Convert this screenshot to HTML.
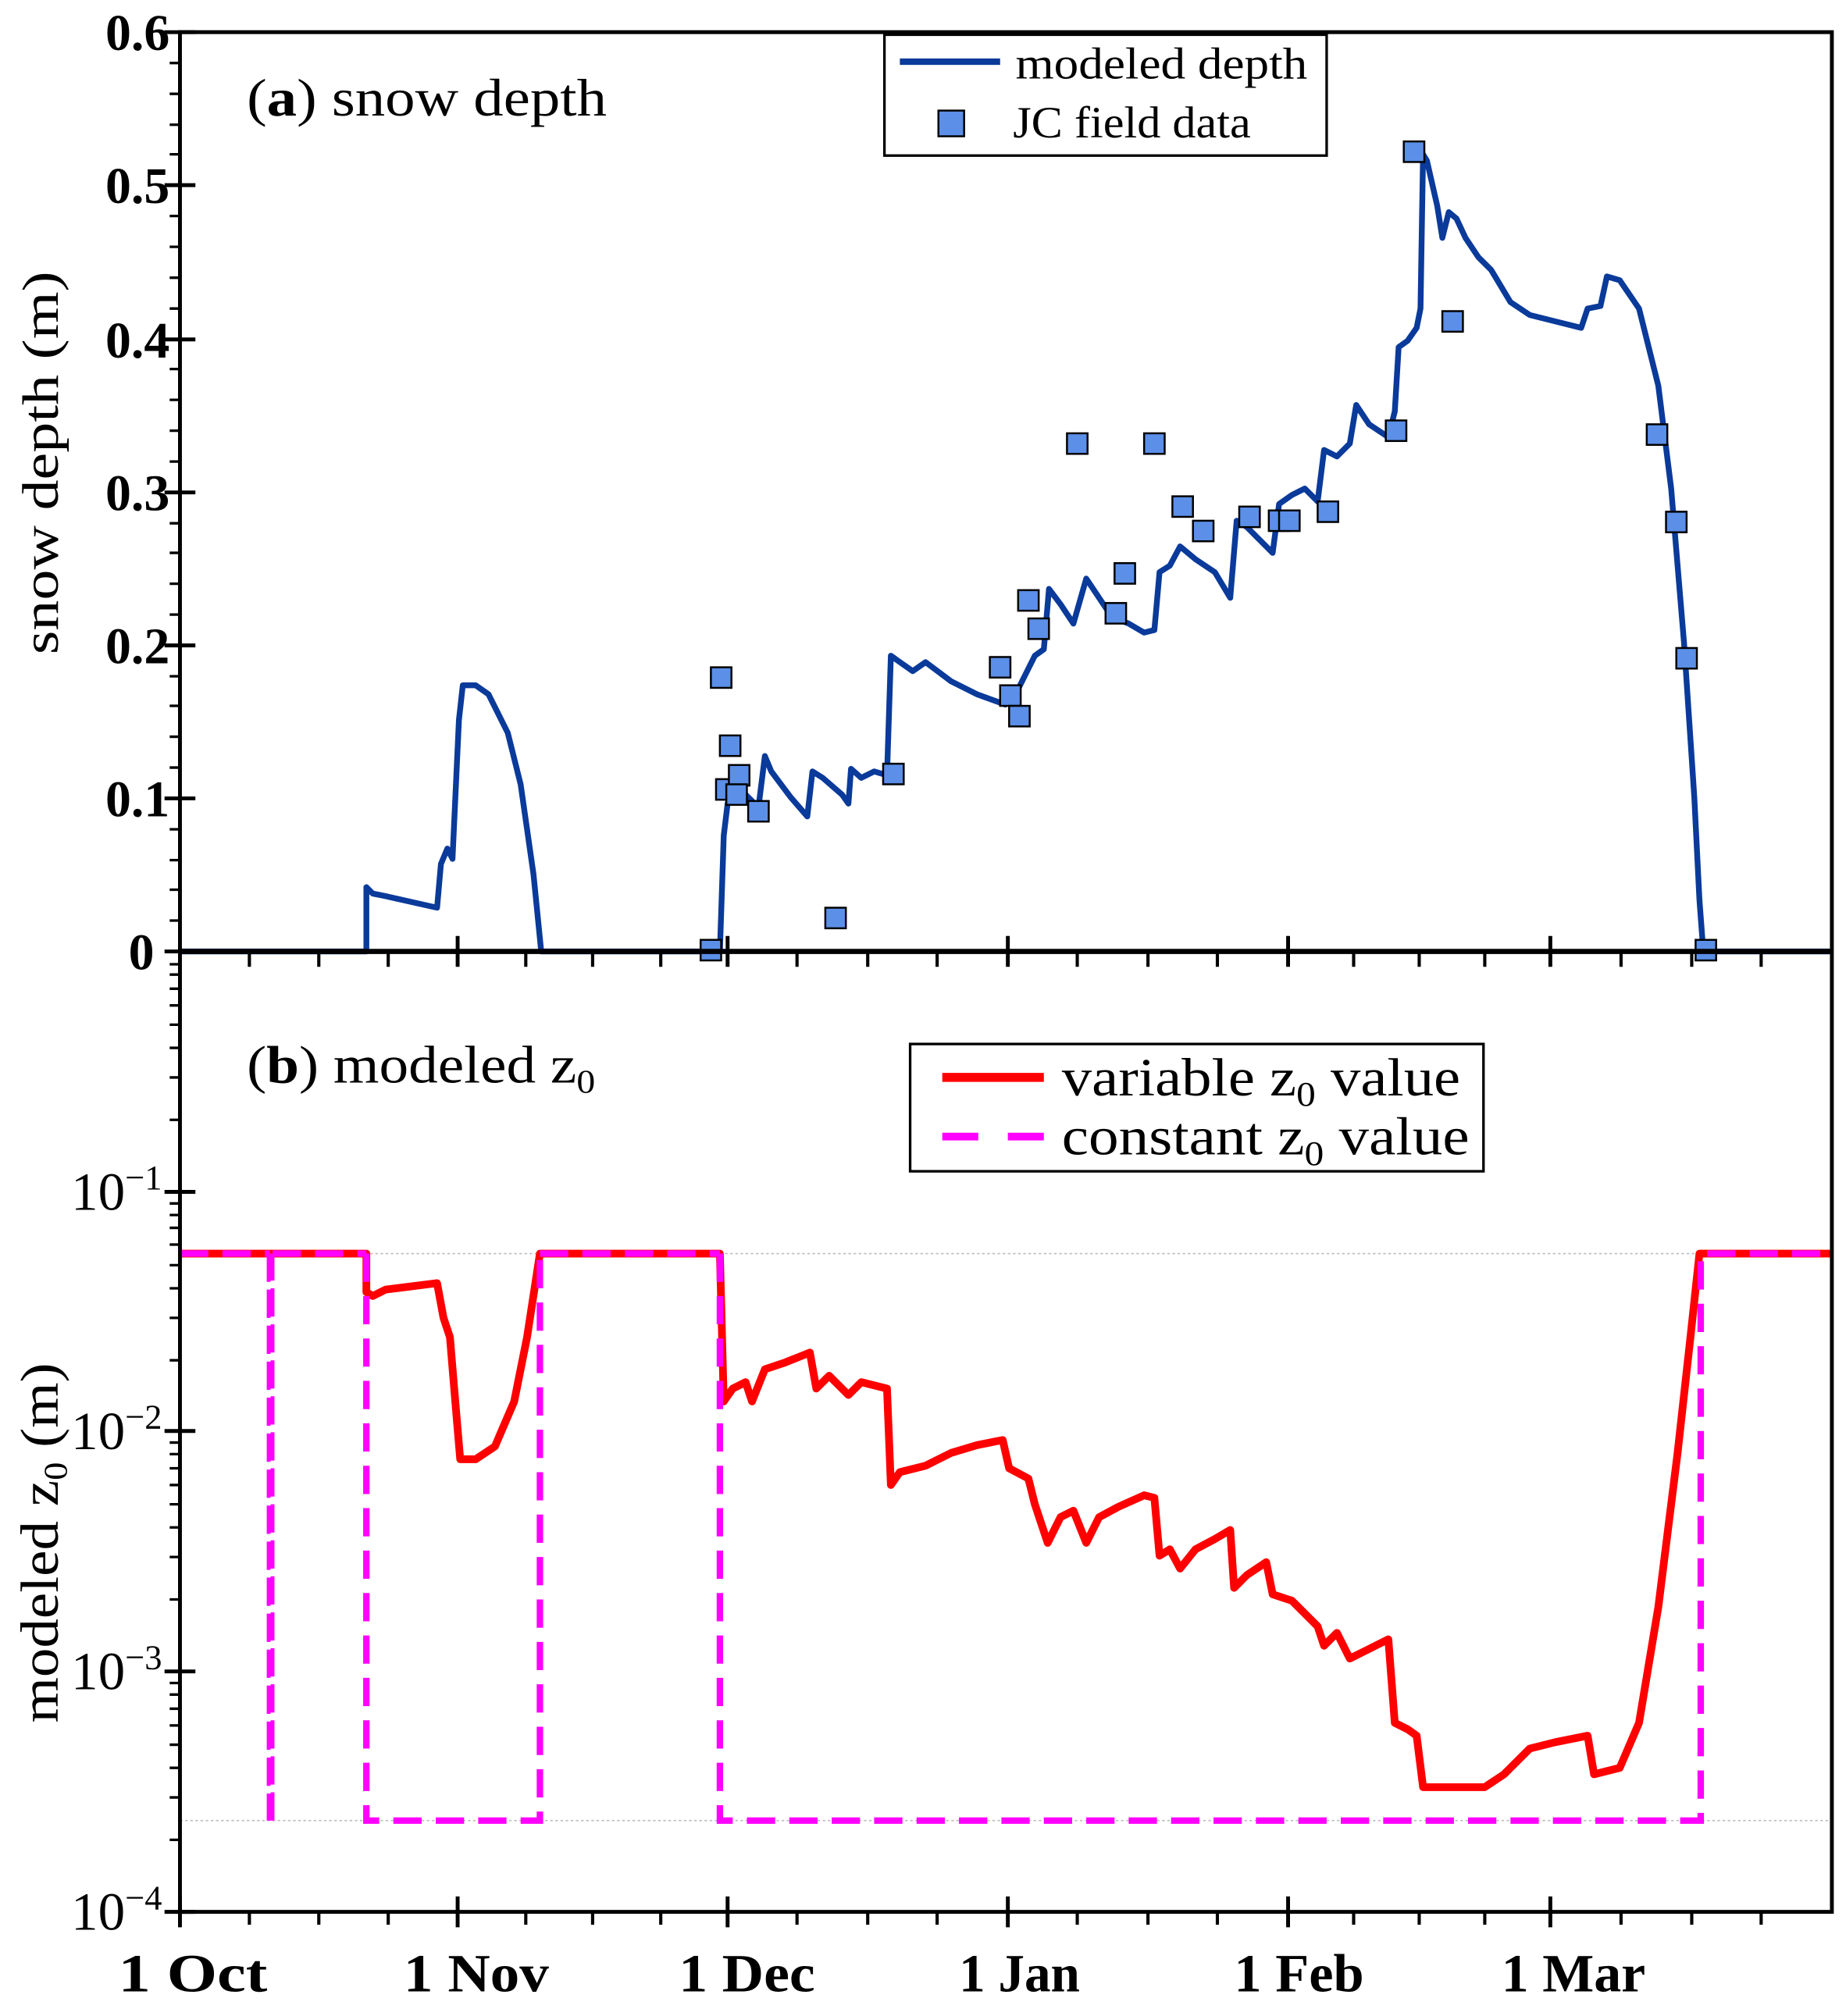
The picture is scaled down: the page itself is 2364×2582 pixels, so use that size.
<!DOCTYPE html>
<html><head><meta charset="utf-8"><style>
html,body{margin:0;padding:0;background:#fff}
svg{display:block}
text{font-family:"Liberation Serif","DejaVu Serif",serif;fill:#000}
.tk{font-size:40px;font-weight:bold}
.xl{font-size:42px;font-weight:bold}
</style></head><body>
<svg width="2364" height="2582" viewBox="0 0 1436 1568" preserveAspectRatio="none" xmlns="http://www.w3.org/2000/svg">
<rect width="1436" height="1568" fill="#fff"/>
<line x1="140" y1="975" x2="1425" y2="975" stroke="#bbb" stroke-width="1" stroke-dasharray="2,2"/>
<line x1="140" y1="1416" x2="1425" y2="1416" stroke="#bbb" stroke-width="1" stroke-dasharray="2,2"/>
<polyline fill="none" stroke="#f00" stroke-width="6" stroke-linejoin="round" points="140,975 285,975 285,1005 290,1008 300,1003 340,998 345,1025 350,1040 355,1100 358,1135 370,1135 385,1125 400,1090 410,1040 420,975 560,975 563,1090 570,1080 580,1075 585,1090 595,1065 610,1060 630,1052 635,1080 645,1070 660,1085 670,1075 690,1080 693,1155 700,1145 720,1140 740,1130 760,1124 780,1120 785,1142 800,1150 805,1170 815,1200 825,1180 835,1175 845,1200 855,1180 870,1172 890,1163 898,1165 902,1210 910,1205 918,1220 930,1205 945,1197 957,1190 960,1235 970,1225 985,1215 990,1240 1005,1245 1025,1265 1030,1280 1040,1270 1050,1290 1060,1285 1070,1280 1080,1275 1085,1340 1095,1345 1102,1350 1107,1390 1155,1390 1170,1380 1190,1360 1210,1355 1235,1350 1240,1380 1260,1375 1275,1340 1290,1250 1305,1130 1315,1040 1322,975 1425,975"/>
<path d="M140,975 H210 M285,975 V1416 H420 V975 M560,975 V1416 H1323 V975 H1425 M212,975 H285 M420,975 H560" fill="none" stroke="#f0f" stroke-width="5" stroke-dasharray="22,11"/>
<path d="M209,975 V1416 M212,1416 V975" fill="none" stroke="#f0f" stroke-width="3" stroke-dasharray="22,6"/>
<polyline fill="none" stroke="#0a3a9a" stroke-width="4.5" stroke-linejoin="round" points="140,740 285,740 285,690 290,695 300,697 340,706 343,672 348,660 352,668 357,560 360,533 370,533 380,540 395,570 405,610 415,680 421,740 560,740 563,650 566,625 570,612 580,618 590,628 595,588 600,600 615,620 628,635 632,600 640,605 655,618 660,625 662,598 670,605 680,600 690,603 693,510 700,515 710,522 720,515 740,530 760,540 782,548 790,540 800,520 805,510 812,505 816,458 825,470 835,485 845,450 855,465 865,480 878,485 890,492 898,490 902,445 910,440 918,425 930,435 945,445 957,465 962,405 970,410 985,425 990,430 995,392 1005,385 1015,380 1025,390 1030,350 1040,355 1050,345 1055,315 1065,330 1080,340 1085,320 1088,270 1095,265 1102,255 1105,240 1107,120 1110,125 1118,160 1122,185 1127,165 1133,170 1140,185 1150,200 1160,210 1175,235 1190,245 1210,250 1230,255 1235,240 1245,238 1250,215 1260,218 1275,240 1290,300 1300,380 1310,500 1318,620 1322,700 1325,740 1425,740"/>
<g fill="#5b8fe8" stroke="#000" stroke-width="1.5">
<rect x="545" y="731" width="16" height="16"/><rect x="553" y="519" width="16" height="16"/><rect x="560" y="572" width="16" height="16"/><rect x="557" y="606" width="16" height="16"/><rect x="567" y="595" width="16" height="16"/><rect x="565" y="610" width="16" height="16"/><rect x="582" y="623" width="16" height="16"/><rect x="642" y="706" width="16" height="16"/><rect x="687" y="594" width="16" height="16"/><rect x="770" y="511" width="16" height="16"/><rect x="778" y="533" width="16" height="16"/><rect x="785" y="549" width="16" height="16"/><rect x="792" y="459" width="16" height="16"/><rect x="800" y="481" width="16" height="16"/><rect x="830" y="337" width="16" height="16"/><rect x="860" y="469" width="16" height="16"/><rect x="867" y="438" width="16" height="16"/><rect x="890" y="337" width="16" height="16"/><rect x="912" y="386" width="16" height="16"/><rect x="928" y="405" width="16" height="16"/><rect x="964" y="394" width="16" height="16"/><rect x="987" y="397" width="16" height="16"/><rect x="995" y="397" width="16" height="16"/><rect x="1025" y="390" width="16" height="16"/><rect x="1078" y="327" width="16" height="16"/><rect x="1092" y="110" width="16" height="16"/><rect x="1122" y="242" width="16" height="16"/><rect x="1281" y="330" width="16" height="16"/><rect x="1296" y="398" width="16" height="16"/><rect x="1304" y="504" width="16" height="16"/><rect x="1319" y="731" width="16" height="16"/>
</g>
<g stroke="#000" fill="none">
<rect x="140" y="25" width="1285" height="1462" stroke-width="3"/>
<line x1="140" y1="740" x2="1425" y2="740" stroke-width="4"/>
</g>
<g stroke="#000" stroke-width="3">
<path d="M128,25H152M128,144H152M128,264H152M128,383H152M128,502H152M128,621H152M128,740H152"/>
<path stroke-width="2" d="M132,49H140M132,73H140M132,97H140M132,120H140M132,168H140M132,192H140M132,216H140M132,240H140M132,287H140M132,311H140M132,335H140M132,359H140M132,407H140M132,430H140M132,454H140M132,478H140M132,526H140M132,549H140M132,573H140M132,597H140M132,645H140M132,669H140M132,692H140M132,716H140"/>
<path d="M128,927H152M128,1113H152M128,1300H152M128,1487H152"/>
<path stroke-width="2" d="M132,750H140M132,758H140M132,769H140M132,782H140M132,797H140M132,815H140M132,838H140M132,871H140M132,936H140M132,945H140M132,955H140M132,968H140M132,984H140M132,1002H140M132,1025H140M132,1058H140M132,1122H140M132,1131H140M132,1142H140M132,1155H140M132,1170H140M132,1188H140M132,1211H140M132,1244H140M132,1309H140M132,1318H140M132,1329H140M132,1342H140M132,1357H140M132,1375H140M132,1398H140M132,1431H140"/>
<path d="M356,728V752M566,728V752M784,728V752M1002,728V752M1206,728V752M140,1475V1499M356,1475V1499M566,1475V1499M784,1475V1499M1002,1475V1499M1206,1475V1499"/>
<path stroke-width="2.5" d="M194,740V752M248,740V752M302,740V752M409,740V752M461,740V752M514,740V752M620,740V752M675,740V752M729,740V752M838,740V752M893,740V752M947,740V752M1053,740V752M1104,740V752M1155,740V752M1261,740V752M1316,740V752M1370,740V752M194,1487V1497M248,1487V1497M302,1487V1497M409,1487V1497M461,1487V1497M514,1487V1497M620,1487V1497M675,1487V1497M729,1487V1497M838,1487V1497M893,1487V1497M947,1487V1497M1053,1487V1497M1104,1487V1497M1155,1487V1497M1261,1487V1497M1316,1487V1497M1370,1487V1497"/>
</g>
<g text-anchor="end">
<text x="132" y="39" class="tk">0.6</text><text x="132" y="158" class="tk">0.5</text><text x="132" y="278" class="tk">0.4</text><text x="132" y="397" class="tk">0.3</text><text x="132" y="516" class="tk">0.2</text><text x="132" y="635" class="tk">0.1</text><text x="120" y="754" class="tk">0</text>
</g>
<g text-anchor="end">
<text x="126" y="941" font-size="42">10<tspan dy="-16" font-size="27">−1</tspan></text>
<text x="126" y="1127" font-size="42">10<tspan dy="-16" font-size="27">−2</tspan></text>
<text x="126" y="1314" font-size="42">10<tspan dy="-16" font-size="27">−3</tspan></text>
<text x="126" y="1501" font-size="42">10<tspan dy="-16" font-size="27">−4</tspan></text>
</g>
<g>
<text x="92" y="1549" class="xl" textLength="116" lengthAdjust="spacingAndGlyphs">1 Oct</text>
<text x="314" y="1549" class="xl" textLength="113" lengthAdjust="spacingAndGlyphs">1 Nov</text>
<text x="528" y="1549" class="xl" textLength="106" lengthAdjust="spacingAndGlyphs">1 Dec</text>
<text x="746" y="1549" class="xl" textLength="94" lengthAdjust="spacingAndGlyphs">1 Jan</text>
<text x="960" y="1549" class="xl" textLength="101" lengthAdjust="spacingAndGlyphs">1 Feb</text>
<text x="1168" y="1549" class="xl" textLength="112" lengthAdjust="spacingAndGlyphs">1 Mar</text>
</g>
<text transform="translate(45,360) rotate(-90)" text-anchor="middle" font-size="40" textLength="298" lengthAdjust="spacingAndGlyphs">snow depth (m)</text>
<text transform="translate(45,1200) rotate(-90)" text-anchor="middle" font-size="42" textLength="280" lengthAdjust="spacingAndGlyphs">modeled z<tspan font-size="26" dy="7">0</tspan><tspan dy="-7"> (m)</tspan></text>
<text x="192" y="90" font-size="41" textLength="280" lengthAdjust="spacingAndGlyphs">(<tspan font-weight="bold">a</tspan>) snow depth</text>
<text x="192" y="842" font-size="41" textLength="271" lengthAdjust="spacingAndGlyphs">(<tspan font-weight="bold">b</tspan>) modeled z<tspan font-size="26" dy="8">0</tspan></text>
<rect x="688" y="27" width="344" height="94" fill="#fff" stroke="#000" stroke-width="2"/>
<line x1="700" y1="48" x2="778" y2="48" stroke="#0a3a9a" stroke-width="5"/>
<text x="790" y="61" font-size="35" textLength="227" lengthAdjust="spacingAndGlyphs">modeled depth</text>
<rect x="730" y="86" width="20" height="20" fill="#5b8fe8" stroke="#000" stroke-width="1.5"/>
<text x="788" y="107" font-size="35" textLength="185" lengthAdjust="spacingAndGlyphs">JC field data</text>
<rect x="708" y="812" width="446" height="99" fill="#fff" stroke="#000" stroke-width="2"/>
<line x1="733" y1="838" x2="812" y2="838" stroke="#f00" stroke-width="7"/>
<text x="826" y="852" font-size="42" textLength="310" lengthAdjust="spacingAndGlyphs">variable z<tspan font-size="27" dy="8">0</tspan><tspan dy="-8"> value</tspan></text>
<line x1="733" y1="884" x2="812" y2="884" stroke="#f0f" stroke-width="6" stroke-dasharray="28,23"/>
<text x="826" y="898" font-size="42" textLength="317" lengthAdjust="spacingAndGlyphs">constant z<tspan font-size="27" dy="8">0</tspan><tspan dy="-8"> value</tspan></text>
</svg>
</body></html>
